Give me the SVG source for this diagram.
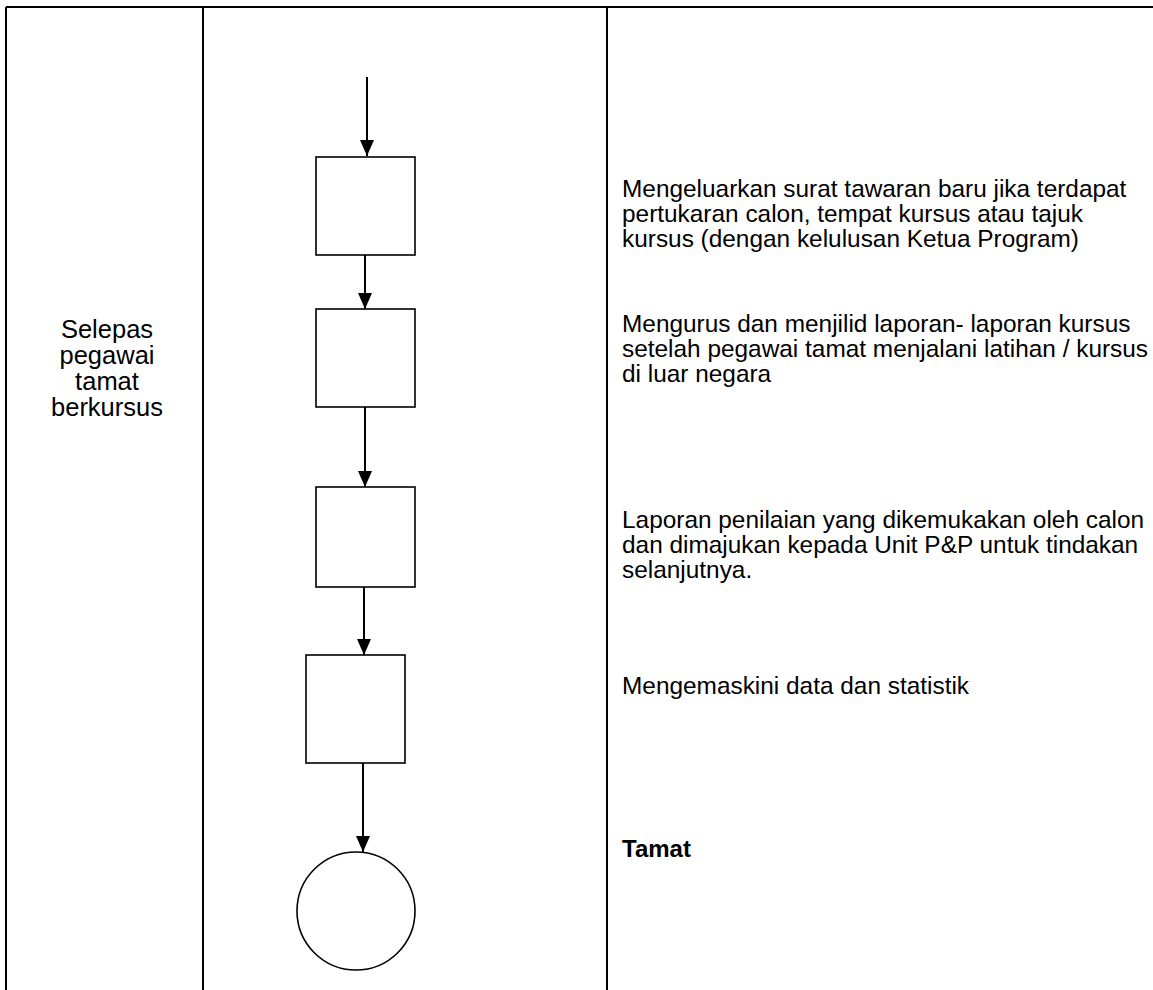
<svg xmlns="http://www.w3.org/2000/svg" width="1153" height="990" viewBox="0 0 1153 990">
<style>
.grid{stroke:#000;stroke-width:2;fill:none}
.box{fill:#fff;stroke:#000;stroke-width:1.6}
.conn{stroke:#000;stroke-width:2;fill:none}
.t{font-family:"Liberation Sans",Arial,sans-serif;font-size:24.4px;fill:#000}
.lbl{font-family:"Liberation Sans",Arial,sans-serif;font-size:25.5px;fill:#000;text-anchor:middle}
.b{font-weight:bold;font-size:24px}
</style>
<defs>
<marker id="ah" viewBox="0 0 16 14" refX="16" refY="7" markerWidth="16" markerHeight="14" markerUnits="userSpaceOnUse" orient="auto">
<path d="M0,0 L16,7 L0,14 Z" fill="#000"/>
</marker>
</defs>
<rect width="1153" height="990" fill="#fff"/>
<g id="table">
<line class="grid" x1="6" y1="7" x2="1153" y2="7"/>
<line class="grid" x1="6" y1="7" x2="6" y2="990"/>
<line class="grid" x1="203" y1="7" x2="203" y2="990"/>
<line class="grid" x1="607" y1="7" x2="607" y2="990"/>
</g>
<g id="lane-label">
<text class="lbl" x="107" y="338">Selepas</text>
<text class="lbl" x="107" y="364">pegawai</text>
<text class="lbl" x="107" y="390">tamat</text>
<text class="lbl" x="107" y="416">berkursus</text>
</g>
<g id="connectors">
<line class="conn" x1="367" y1="77" x2="367" y2="156" marker-end="url(#ah)"/>
<line class="conn" x1="365" y1="255" x2="365" y2="309" marker-end="url(#ah)"/>
<line class="conn" x1="365" y1="407" x2="365" y2="487" marker-end="url(#ah)"/>
<line class="conn" x1="364" y1="587" x2="364" y2="655" marker-end="url(#ah)"/>
<line class="conn" x1="363" y1="763" x2="363" y2="852" marker-end="url(#ah)"/>
</g>
<g id="node1"><rect class="box" x="316" y="157" width="99" height="98"/></g>
<g id="node2"><rect class="box" x="316" y="309" width="99" height="98"/></g>
<g id="node3"><rect class="box" x="316" y="487" width="99" height="100"/></g>
<g id="node4"><rect class="box" x="306" y="655" width="99" height="108"/></g>
<g id="end"><circle class="box" cx="356" cy="911" r="59"/></g>
<g id="desc1">
<text class="t" x="622" y="197">Mengeluarkan surat tawaran baru jika terdapat</text>
<text class="t" x="622" y="222">pertukaran calon, tempat kursus atau tajuk</text>
<text class="t" x="622" y="247">kursus (dengan kelulusan Ketua Program)</text>
</g>
<g id="desc2">
<text class="t" x="622" y="332">Mengurus dan menjilid laporan- laporan kursus</text>
<text class="t" x="622" y="357">setelah pegawai tamat menjalani latihan / kursus</text>
<text class="t" x="622" y="382">di luar negara</text>
</g>
<g id="desc3">
<text class="t" x="622" y="528">Laporan penilaian yang dikemukakan oleh calon</text>
<text class="t" x="622" y="553">dan dimajukan kepada Unit P&amp;P untuk tindakan</text>
<text class="t" x="622" y="578">selanjutnya.</text>
</g>
<g id="desc4">
<text class="t" x="622" y="694">Mengemaskini data dan statistik</text>
</g>
<g id="desc5">
<text class="t b" x="622" y="857">Tamat</text>
</g>
</svg>
